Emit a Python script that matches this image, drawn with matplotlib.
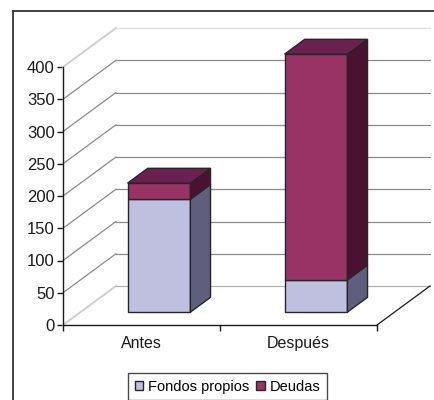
import matplotlib
matplotlib.use("Agg")
import matplotlib.pyplot as plt
from matplotlib.patches import Polygon, Patch
from matplotlib.lines import Line2D

plt.rcParams['font.family'] = ['Liberation Sans', 'DejaVu Sans']

# Data
categories = ["Antes", "Después"]
fondos_propios = [175, 50]
deudas = [25, 350]
series_names = ["Fondos propios", "Deudas"]
y_ticks = [0, 50, 100, 150, 200, 250, 300, 350, 400]

# Colours: front, side, top for each series
colors = {
    "Fondos propios": ("#bfbfdf", "#5f5f7d", "#8f8fb0"),
    "Deudas": ("#993366", "#4a1230", "#6b2150"),
}
edge = "#262626"

W, H = 435, 400
fig = plt.figure(figsize=(W / 100, H / 100), dpi=100)

# Axes placed on pixel bounds of the front plane
left_px, right_px, top_px, bot_px = 63, 377, 67, 325
ax = fig.add_axes([left_px / W, 1 - bot_px / H, (right_px - left_px) / W, (bot_px - top_px) / H])
ax.set_xlim(0, 2)
ax.set_ylim(0, 400)

# Depth offset of the whole plot box, expressed in data units
DEPTH_PX = (53, 39)
DX = DEPTH_PX[0] * 2 / (right_px - left_px)
DY = DEPTH_PX[1] * 400 / (bot_px - top_px)


def proj(x, y, d):
    return (x + d * DX, y + d * DY)


kw = dict(transform=ax.transData, clip_on=False)

# Back wall and left wall gridlines
for v in y_ticks:
    outer = v in (0, 400)
    x0, y0 = proj(0, v, 0)
    x1, y1 = proj(0, v, 1)
    # left wall diagonal
    if outer:
        ax.add_line(Line2D([x0, x1], [y0, y1], color="#cfcfcf", lw=1.4, **kw))
    else:
        ax.add_line(Line2D([x0, x1], [y0, y1], color="#8a8a8a", lw=0.9, **kw))
    # back wall line
    x2, y2 = proj(2, v, 1)
    col = {400: "#dedede", 0: "#b0b0b0"}.get(v, "#8a8a8a")
    ax.add_line(Line2D([x1, x2], [y1, y2], color=col, lw=0.9, **kw))

# Right floor edge
fx0, fy0 = proj(2, 0, 0)
fx1, fy1 = proj(2, 0, 1)
ax.add_line(Line2D([fx0, fx1], [fy0, fy1], color="#1a1a1a", lw=0.9, **kw))

# Stacked 3D bars
bar_w = 0.40
d0, d1 = 0.33, 0.71
for i, cat in enumerate(categories):
    c = i + 0.5
    bottom = 0
    vals = [fondos_propios[i], deudas[i]]
    for j, (name, v) in enumerate(zip(series_names, vals)):
        front, side, top = colors[name]
        xl, yb = proj(c - bar_w / 2, bottom, d0)
        xr, _ = proj(c + bar_w / 2, bottom, d0)
        # front face
        ax.bar(xl, v, width=xr - xl, bottom=yb, align="edge", color=front,
               edgecolor=edge, linewidth=1.0, clip_on=False, zorder=3)
        # side face
        sx0, sy0 = proj(c + bar_w / 2, bottom, d0)
        sx1, sy1 = proj(c + bar_w / 2, bottom, d1)
        side_poly = [(sx0, sy0), (sx1, sy1), (sx1, sy1 + v), (sx0, sy0 + v)]
        ax.add_patch(Polygon(side_poly, closed=True, facecolor=side, edgecolor=edge,
                             lw=1.0, zorder=3, **kw))
        # top face for the highest segment
        if j == len(vals) - 1:
            tx0, ty0 = proj(c - bar_w / 2, bottom + v, d0)
            tx1, ty1 = proj(c + bar_w / 2, bottom + v, d0)
            tx2, ty2 = proj(c + bar_w / 2, bottom + v, d1)
            tx3, ty3 = proj(c - bar_w / 2, bottom + v, d1)
            ax.add_patch(Polygon([(tx0, ty0), (tx1, ty1), (tx2, ty2), (tx3, ty3)], closed=True,
                                 facecolor=top, edgecolor=edge, lw=1.0, zorder=3, **kw))
        bottom += v

# Axes styling
for s in ("top", "right"):
    ax.spines[s].set_visible(False)
for s in ("left", "bottom"):
    ax.spines[s].set_color("#1a1a1a")
    ax.spines[s].set_linewidth(1.0)
ax.patch.set_visible(False)

ax.set_yticks(y_ticks)
ax.set_yticklabels([str(v) for v in y_ticks])
ax.set_xticks([0, 1, 2])
ax.set_xticklabels([])
ax.set_xticks([0.5, 1.5], minor=True)
ax.set_xticklabels(categories, minor=True)
ax.tick_params(axis="y", direction="out", length=4, width=1, color="#1a1a1a",
               labelsize=12, pad=2, labelcolor="#1a1a1a")
ax.tick_params(axis="x", which="major", direction="out", length=4, width=1, color="#1a1a1a")
ax.tick_params(axis="x", which="minor", length=0, labelsize=11.5, pad=8, labelcolor="#1a1a1a")

# Legend
handles = [Patch(facecolor=colors[n][0], edgecolor=edge, linewidth=1.0) for n in series_names]
leg = fig.legend(handles, series_names, loc="upper left",
                 bbox_to_anchor=(128 / W, 1 - 373 / H), ncol=2, frameon=True,
                 fancybox=False, fontsize=10.5, handlelength=0.6, handleheight=0.6,
                 handletextpad=0.3, columnspacing=0.5, borderpad=0.45, borderaxespad=0)
leg.get_frame().set_edgecolor("#1a1a1a")
leg.get_frame().set_linewidth(1.0)

# Outer chart-area border
fig.add_artist(Line2D([13 / W, 13 / W], [0, 1 - 11 / H], transform=fig.transFigure,
                      color="#333333", lw=1.3))
fig.add_artist(Line2D([13 / W, 1], [1 - 11 / H, 1 - 11 / H], transform=fig.transFigure,
                      color="#333333", lw=1.3))

fig.savefig("out.png", dpi=100)
